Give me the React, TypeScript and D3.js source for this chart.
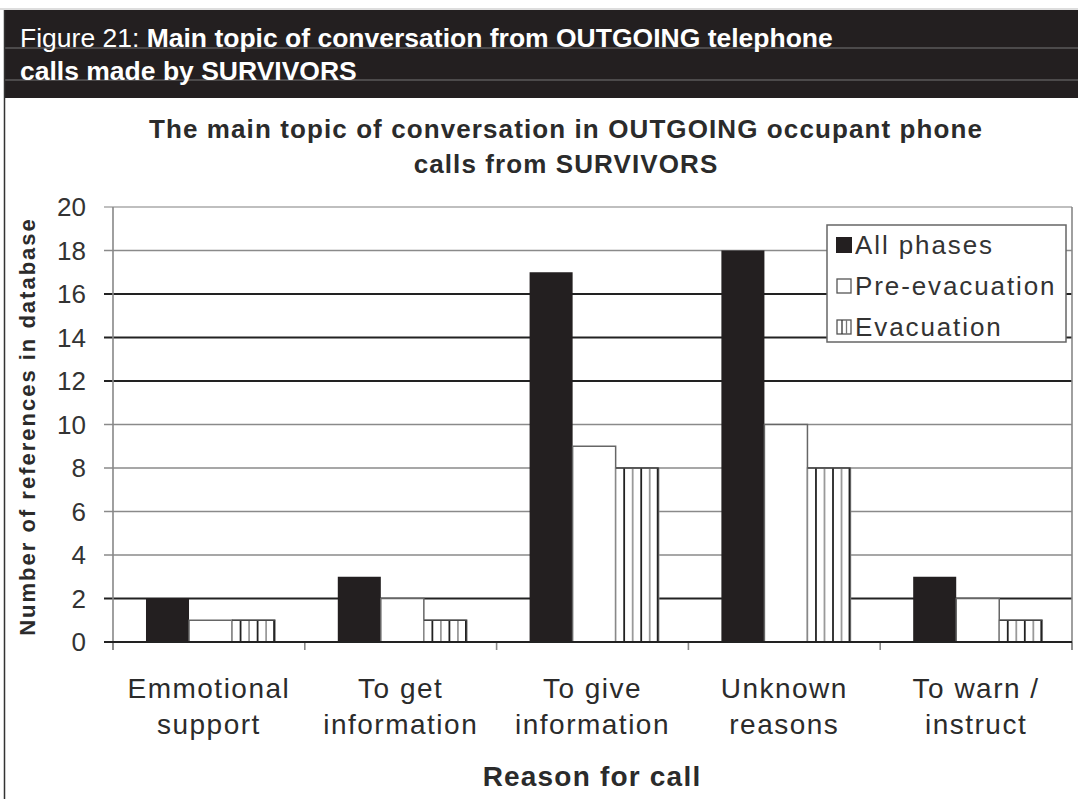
import React from "react";
import * as d3 from "d3";

const categoryKeys = [
  "Emmotional support",
  "To get information",
  "To give information",
  "Unknown reasons",
  "To warn / instruct",
];
const categoryLines = [
  ["Emmotional", "support"],
  ["To get", "information"],
  ["To give", "information"],
  ["Unknown", "reasons"],
  ["To warn /", "instruct"],
];
const seriesNames = ["All phases", "Pre-evacuation", "Evacuation"];
const allPhases = [2, 3, 17, 18, 3];
const preEvacuation = [1, 2, 9, 10, 2];
const evacuation = [1, 1, 8, 8, 1];
const yTicks = [0, 2, 4, 6, 8, 10, 12, 14, 16, 18, 20];
const darkGrid = [0, 2, 12, 14, 16];

const W = 1078;
const H = 799;
const FONT = "'Liberation Sans', Arial, Helvetica, sans-serif";

export default function App() {
  const left = 113;
  const right = 1072;
  const top = 207;
  const bottom = 642;

  const x = d3.scaleBand<string>().domain(categoryKeys).range([left, right]).padding(0);
  const bw = x.bandwidth();
  const xs = d3
    .scaleBand<string>()
    .domain(seriesNames)
    .range([bw * 0.172, bw * 0.845])
    .padding(0);
  const sw = xs.bandwidth();
  const y = d3.scaleLinear().domain([0, 20]).range([bottom, top]);

  const series = [allPhases, preEvacuation, evacuation];

  const boundaries = d3.range(categoryKeys.length + 1).map((i) => left + i * bw);

  const stripes = (x0: number, w: number, yTop: number) => {
    const n = Math.floor(w / 7.2);
    return d3.range(1, n + 1).map((k) => {
      const xx = x0 + k * (w / (n + 0.05));
      return (
        <line
          key={k}
          x1={Math.min(xx, x0 + w - 1)}
          x2={Math.min(xx, x0 + w - 1)}
          y1={yTop}
          y2={bottom}
          stroke={k % 2 === 0 ? "#9a9a9a" : "#222"}
          strokeWidth={1.8}
        />
      );
    });
  };

  return (
    <svg
      width={W}
      height={H}
      style={{ position: "absolute", left: 0, top: 0, background: "#fff" }}
      fontFamily={FONT}
    >
      <rect x={0} y={0} width={W} height={H} fill="#fff" />
      {/* header band */}
      <line x1={0} x2={W} y1={9} y2={9} stroke="#bbb" strokeWidth={1} />
      <rect x={4} y={10} width={W - 4} height={88} fill="#231f20" />
      <line x1={4} x2={W} y1={48} y2={48} stroke="#777" strokeWidth={1} />
      <line x1={4} x2={W} y1={80} y2={80} stroke="#777" strokeWidth={1} />
      <line x1={4.5} x2={4.5} y1={10} y2={H} stroke="#333" strokeWidth={1.5} />
      <text x={20} y={47} fill="#fff" fontSize={26.5}>
        <tspan>Figure 21: </tspan>
        <tspan fontWeight="bold">Main topic of conversation from OUTGOING telephone</tspan>
      </text>
      <text x={20} y={80} fill="#fff" fontSize={26.5} fontWeight="bold">
        calls made by SURVIVORS
      </text>

      {/* chart title */}
      <text x={566} y={138} textAnchor="middle" fontSize={26} fontWeight="bold" fill="#2b2b2b" letterSpacing={1.1}>
        The main topic of conversation in OUTGOING occupant phone
      </text>
      <text x={566} y={173} textAnchor="middle" fontSize={26} fontWeight="bold" fill="#2b2b2b" letterSpacing={1.1}>
        calls from SURVIVORS
      </text>

      {/* gridlines */}
      {yTicks.map((t) => (
        <line
          key={"g" + t}
          x1={left - 9}
          x2={right}
          y1={y(t)}
          y2={y(t)}
          stroke={darkGrid.includes(t) ? "#222" : t === 20 ? "#aaa" : "#8a8a8a"}
          strokeWidth={darkGrid.includes(t) ? 1.8 : 1.5}
        />
      ))}
      {/* y tick labels */}
      {yTicks.map((t) => (
        <text key={"t" + t} x={86} y={y(t) + 9} textAnchor="end" fontSize={26} fill="#333">
          {t}
        </text>
      ))}
      {/* axes lines */}
      <line x1={left} x2={left} y1={top} y2={bottom + 8} stroke="#888" strokeWidth={1.6} />
      <line x1={right} x2={right} y1={top} y2={bottom + 8} stroke="#888" strokeWidth={1.6} />
      {boundaries.map((b, i) => (
        <line key={"xt" + i} x1={b} x2={b} y1={bottom} y2={bottom + 8} stroke="#888" strokeWidth={1.6} />
      ))}

      {/* bars */}
      {categoryKeys.map((c, ci) => {
        const gx = x(c) as number;
        return (
          <g key={c}>
            {seriesNames.map((s, si) => {
              const v = series[si][ci];
              const bx = gx + (xs(s) as number);
              const by = y(v);
              const bh = bottom - by;
              if (si === 0) {
                return <rect key={s} x={bx} y={by} width={sw} height={bh} fill="#231f20" />;
              }
              if (si === 1) {
                return (
                  <rect key={s} x={bx} y={by} width={sw} height={bh} fill="#fff" stroke="#666" strokeWidth={1.5} />
                );
              }
              return (
                <g key={s}>
                  <rect x={bx} y={by} width={sw} height={bh} fill="#fff" stroke="#888" strokeWidth={1.5} />
                  {stripes(bx, sw, by)}
                  <line x1={bx} x2={bx + sw} y1={by} y2={by} stroke="#444" strokeWidth={1.5} />
                </g>
              );
            })}
          </g>
        );
      })}
      {/* baseline redraw */}
      <line x1={left - 9} x2={right} y1={bottom} y2={bottom} stroke="#222" strokeWidth={1.8} />

      {/* category labels */}
      {categoryKeys.map((c, ci) => {
        const cx = (x(c) as number) + bw / 2;
        return (
          <text key={"cl" + c} textAnchor="middle" fontSize={28} fill="#2b2b2b" letterSpacing={1.5}>
            <tspan x={cx} y={698}>
              {categoryLines[ci][0]}
            </tspan>
            <tspan x={cx} y={734}>
              {categoryLines[ci][1]}
            </tspan>
          </text>
        );
      })}
      <text x={592} y={786} textAnchor="middle" fontSize={28} fontWeight="bold" fill="#2b2b2b" letterSpacing={1.2}>
        Reason for call
      </text>
      <text
        transform={`translate(35, ${(top + bottom) / 2 + 2}) rotate(-90)`}
        textAnchor="middle"
        fontSize={22}
        fontWeight="bold"
        fill="#2b2b2b"
        letterSpacing={2}
      >
        Number of references in database
      </text>

      {/* legend */}
      <rect x={827} y={225} width={239} height={117} fill="#fff" stroke="#666" strokeWidth={1.5} />
      {seriesNames.map((s, i) => {
        const cy = 245 + i * 41;
        return (
          <g key={"lg" + s}>
            {i === 0 && <rect x={836} y={cy - 8} width={16} height={16} fill="#231f20" />}
            {i === 1 && (
              <rect x={837} y={cy - 7} width={14} height={14} fill="#fff" stroke="#555" strokeWidth={1.3} />
            )}
            {i === 2 && (
              <g>
                <rect x={837} y={cy - 7} width={14} height={14} fill="#fff" stroke="#555" strokeWidth={1.3} />
                <line x1={842} x2={842} y1={cy - 7} y2={cy + 7} stroke="#333" strokeWidth={1.3} />
                <line x1={846.5} x2={846.5} y1={cy - 7} y2={cy + 7} stroke="#777" strokeWidth={1.3} />
              </g>
            )}
            <text x={855} y={cy + 9} fontSize={26} fill="#333" letterSpacing={1.9}>
              {s}
            </text>
          </g>
        );
      })}
    </svg>
  );
}
